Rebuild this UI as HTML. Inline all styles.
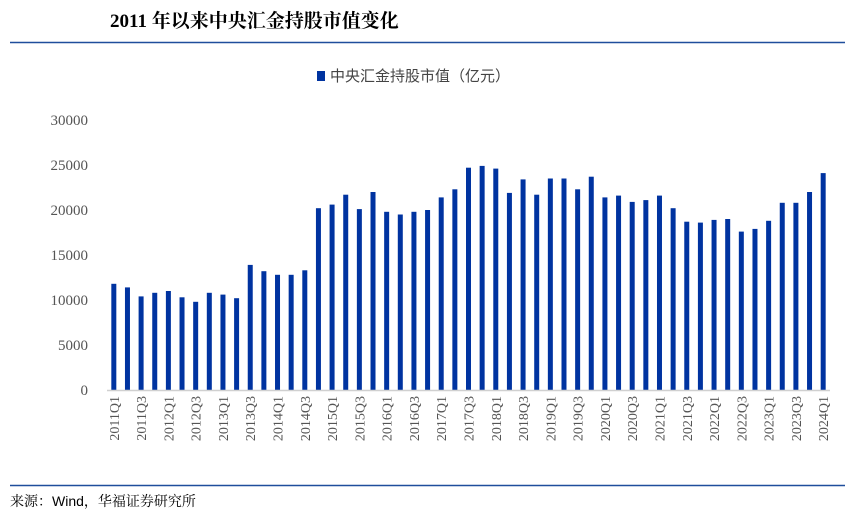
<!DOCTYPE html>
<html><head><meta charset="utf-8"><style>
body{margin:0;width:855px;height:519px;background:#fff;overflow:hidden;font-family:"Liberation Serif","Noto Serif CJK SC",serif;}
</style></head><body>
<svg width="855" height="519">
<text x="110" y="27" font-size="19" font-weight="bold" fill="#000" font-family="Liberation Serif, Noto Serif CJK SC, serif">2011 年以来中央汇金持股市值变化</text>
<line x1="10" y1="42.5" x2="845" y2="42.5" stroke="#1f4e9c" stroke-width="1.5"/>
<g>
<rect x="317" y="71" width="8" height="10" fill="#0033a0"/>
<text x="330" y="81" font-size="15" fill="#444" font-family="Liberation Sans, Noto Sans CJK SC, sans-serif">中央汇金持股市值（亿元）</text>
</g>
<g id="yaxis"></g><g id="bars"></g><g id="xaxis"></g>
<line x1="10" y1="485.5" x2="845" y2="485.5" stroke="#1f4e9c" stroke-width="1.5"/>
<text x="10" y="506" font-size="14" fill="#000" font-family="Liberation Sans, Noto Serif CJK SC, sans-serif">来源：Wind，华福证券研究所</text>
</svg>
<script>
const values=[11800,11400,10400,10800,11000,10300,9800,10800,10600,10200,13900,13200,12800,12800,13300,20200,20600,21700,20100,22000,19800,19500,19800,20000,21400,22300,24700,24900,24600,21900,23400,21700,23500,23500,22300,23700,21400,21600,20900,21100,21600,20200,18700,18600,18900,19000,17600,17900,18800,20800,20800,22000,24100];
const yTicks=[0,5000,10000,15000,20000,25000,30000];
const categories=[];for(let y=2011;y<=2024;y++)for(let q=1;q<=4;q++)categories.push(y+'Q'+q);
categories.length=values.length;
const NS='http://www.w3.org/2000/svg';
const x0=107,x1=830,y0=390,yTop=120,yMax=30000;
const step=(x1-x0)/values.length;
const xs=i=>x0+step*(i+0.5);
const ys=v=>y0-(v/yMax)*(y0-yTop);
function mk(t,a,p){const e=document.createElementNS(NS,t);for(const k in a)e.setAttribute(k,a[k]);p.appendChild(e);return e;}
const ya=document.getElementById('yaxis'),ba=document.getElementById('bars'),xa=document.getElementById('xaxis');
yTicks.forEach(t=>{const e=mk('text',{x:88,y:ys(t)+5,'text-anchor':'end','font-size':15,fill:'#555'},ya);e.textContent=t;

});
values.forEach((v,i)=>{const r=mk('rect',{x:xs(i)-2.5,y:ys(v),width:5,height:y0-ys(v),fill:'#0033a0'},ba);

});
const ax=mk('line',{x1:x0,y1:y0+0.5,x2:x1,y2:y0+0.5,stroke:'#d0d0d0','stroke-width':1.5},xa);


categories.forEach((c,i)=>{if(i%2)return;const x=xs(i)+5;const e=mk('text',{x:x,y:396,transform:`rotate(-90 ${x} 396)`,'text-anchor':'end','font-size':14,fill:'#555'},xa);e.textContent=c;

});
</script>
</body></html>
